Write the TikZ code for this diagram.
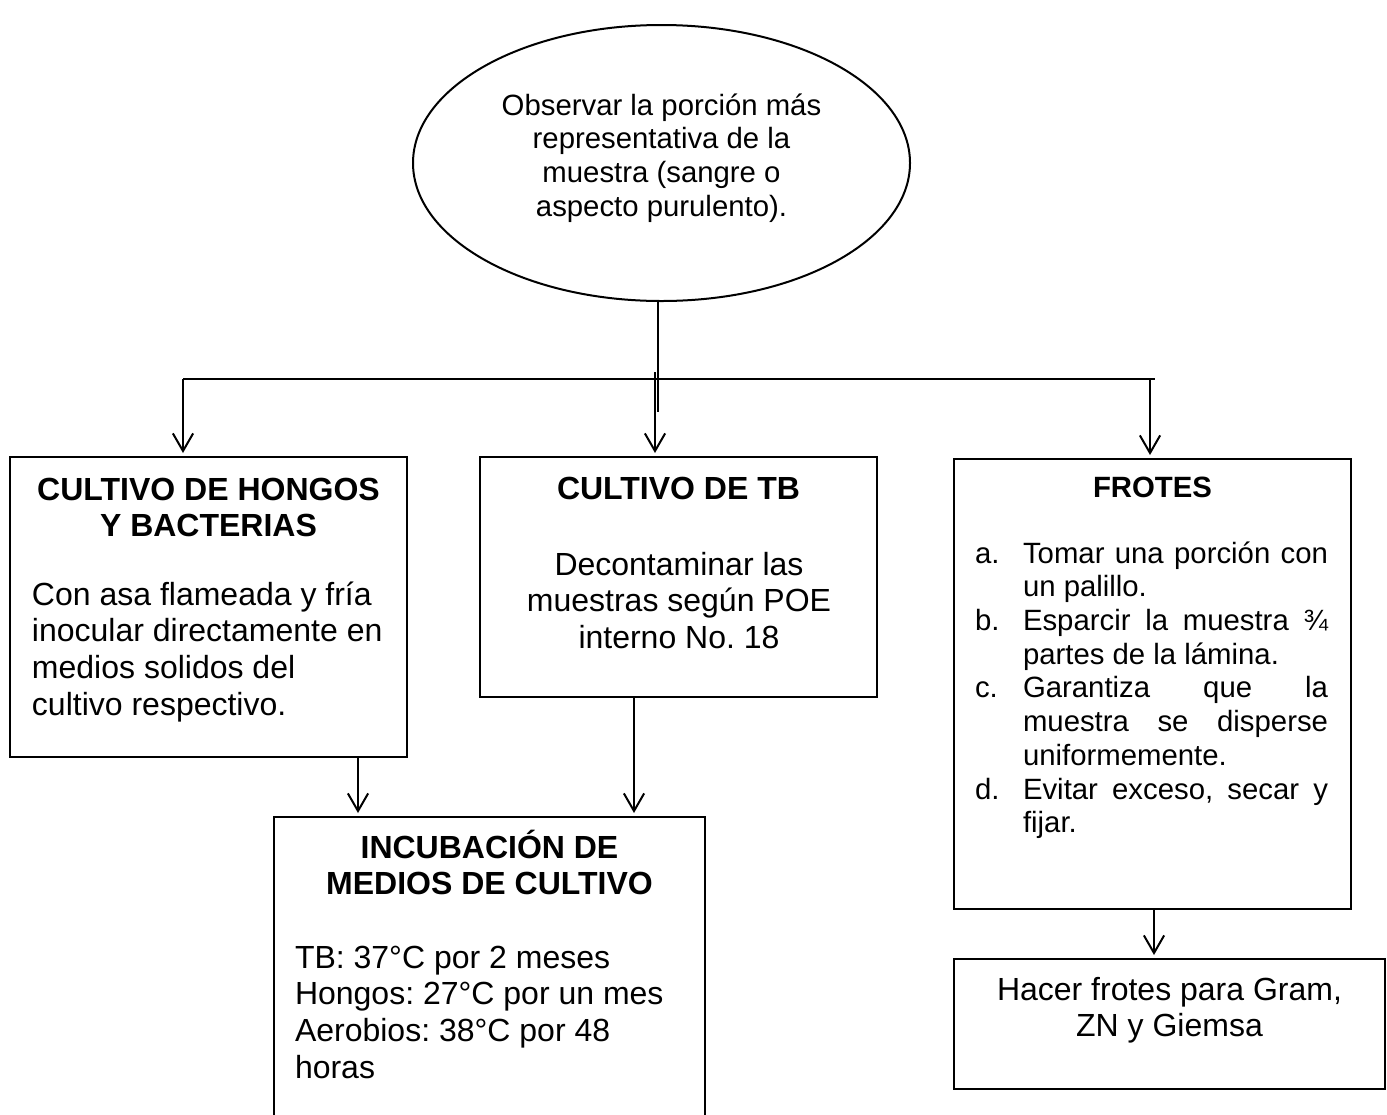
\documentclass[tikz,border=0pt]{standalone}
\usepackage{fontspec}
\setmainfont{Liberation Sans}
\usetikzlibrary{arrows.meta,shapes.geometric}
\frenchspacing
\newcommand\mkbox[5]{\node[boxst, minimum width={(#4-#2)*0.375pt}, minimum height={(#5-#3)*0.375pt}] (#1) at ({(#2+#4)/2},{(#3+#5)/2}) {};}
\begin{document}
\frenchspacing
\begin{tikzpicture}[x=0.375pt,y=-0.375pt,
  boxst/.style={draw, line width=1.1pt, inner sep=0pt, outer sep=0pt, rectangle},
  conn/.style={line width=0.75pt},
  arr/.style={line width=0.75pt, -{Straight Barb[length=6.6pt,width=7.6pt,line width=0.75pt]}, shorten >=1.5pt},
  twelve/.style={inner sep=0pt, outer sep=0pt, font=\fontsize{12}{13.8}\selectfont},
  eleven/.style={inner sep=0pt, outer sep=0pt, font=\fontsize{11}{12.65}\selectfont},
  bold12/.style={twelve, font=\fontsize{12}{13.8}\selectfont\bfseries},
  bold11/.style={eleven, font=\fontsize{11}{12.65}\selectfont\bfseries}]
\clip (0,0) rectangle (1387,1114);
\fill[white] (0,0) rectangle (1387,1114);

% ellipse
\node[draw, ellipse, line width=0.75pt, inner sep=0pt, minimum width={497*0.375pt}, minimum height={276*0.375pt}] (ell) at (661.5,163) {};
\node[eleven, anchor=base] (elltxt) at (661.5,115) {\begin{tabular}[t]{@{}c@{}}Observar la porción más\\ representativa de la\\ muestra (sangre o\\ aspecto purulento).\end{tabular}};

% boxes
\mkbox{hongos}{10}{457}{407}{757}
\mkbox{tb}{480}{457}{877}{697}
\mkbox{frotes}{954}{459}{1351}{909}
\mkbox{hacer}{954}{959}{1385}{1089}
\mkbox{incub}{274}{817}{705}{1130}

% texts: hongos
\node[bold12, anchor=base] (hongosT) at (208.5,500) {\begin{tabular}[t]{@{}c@{}}CULTIVO DE HONGOS\\ Y BACTERIAS\end{tabular}};
\node[twelve, anchor=base west] (hongosB) at (32,605) {\begin{tabular}[t]{@{}l@{}}Con asa flameada y fría\\ inocular directamente en\\ medios solidos del\\ cultivo respectivo.\end{tabular}};

% texts: tb
\node[bold12, anchor=base] (tbT) at (678.5,499) {\begin{tabular}[t]{@{}c@{}}CULTIVO DE TB\end{tabular}};
\node[twelve, anchor=base] (tbB) at (679,575) {\begin{tabular}[t]{@{}c@{}}Decontaminar las\\ muestras según POE\\ interno No. 18\end{tabular}};

% texts: frotes
\node[bold11, anchor=base] (frotesT) at (1152.5,497) {\begin{tabular}[t]{@{}c@{}}FROTES\end{tabular}};
\node[eleven, anchor=base west] (frotesB) at (975,563) {\begin{tabular}[t]{@{}l@{}l@{}}
\makebox[18pt][l]{a.} & \makebox[114.4pt][s]{Tomar una porción con}\\
 & un palillo.\\
b. & \makebox[114.4pt][s]{Esparcir la muestra ¾}\\
 & partes de la lámina.\\
c. & \makebox[114.4pt][s]{Garantiza que la}\\
 & \makebox[114.4pt][s]{muestra se disperse}\\
 & uniformemente.\\
d. & \makebox[114.4pt][s]{Evitar exceso, secar y}\\
 & fijar.
\end{tabular}};

% texts: hacer
\node[twelve, anchor=base] (hacerT) at (1169.5,1000) {\begin{tabular}[t]{@{}c@{}}Hacer frotes para Gram,\\ ZN y Giemsa\end{tabular}};

% texts: incubacion
\node[bold12, anchor=base] (incubT) at (489.5,858) {\begin{tabular}[t]{@{}c@{}}INCUBACIÓN DE\\ MEDIOS DE CULTIVO\end{tabular}};
\node[twelve, anchor=base west] (incubB) at (295,968) {\begin{tabular}[t]{@{}l@{}}TB: 37°C por 2 meses\\ Hongos: 27°C por un mes\\ Aerobios: 38°C por 48\\ horas\end{tabular}};

% connectors
\coordinate (jtop) at (658,412);
\coordinate (hl) at (183,379);
\coordinate (hr) at (1155,379);
\coordinate (mtop) at (655,372);
\coordinate (rtop) at (1150,379);
\coordinate (c1) at (358,757);
\coordinate (c2) at (634,697);
\coordinate (c3) at (1154,909);
\draw[conn] (jtop |- ell.south) -- (jtop);
\draw[conn] (hl) -- (hr);
\draw[arr] (hl) -- (hl |- hongos.north);
\draw[arr] (mtop) -- (mtop |- tb.north);
\draw[arr] (rtop) -- (rtop |- frotes.north);
\draw[arr] (c1) -- (c1 |- incub.north);
\draw[arr] (c2) -- (c2 |- incub.north);
\draw[arr] (c3) -- (c3 |- hacer.north);
\end{tikzpicture}
\end{document}
